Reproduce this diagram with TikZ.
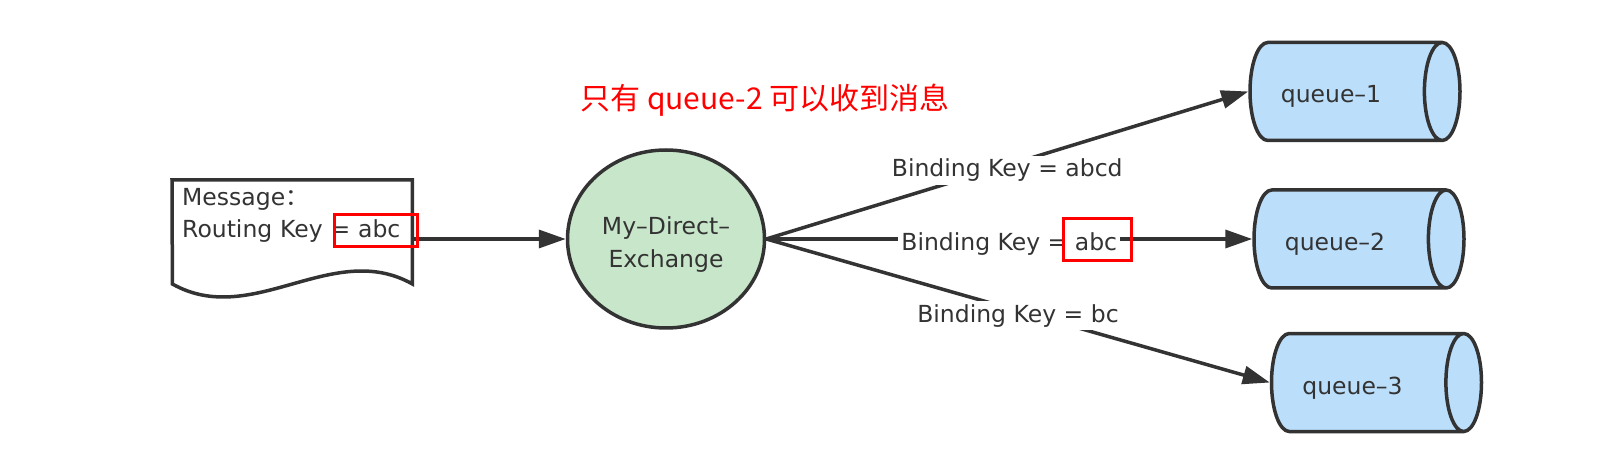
\documentclass[tikz,border=0pt]{standalone}
\usepackage{fontspec}
\setmainfont{DejaVu Sans}
\newfontfamily\cjk{Noto Sans CJK SC}
\usepackage{tikz}
\usetikzlibrary{shapes.geometric,arrows.meta,positioning}

\definecolor{inkgray}{RGB}{51,51,51}
\definecolor{exgreen}{RGB}{200,230,201}
\definecolor{qblue}{RGB}{187,222,251}

\begin{document}
\begin{tikzpicture}[x=1pt, y=1pt,
  font=\fontsize{23.5}{32}\selectfont, text=inkgray,
  exchange/.style={ellipse, draw=inkgray, fill=exgreen, line width=3.5pt,
                   minimum width=197pt, minimum height=178pt, align=center,
                   font=\fontsize{23.5}{33}\selectfont, text height=61pt},
  queue/.style   ={cylinder, draw=inkgray, fill=qblue, line width=3.5pt,
                   shape aspect=1.2, minimum height=210pt, minimum width=98pt,
                   text height=23pt, text depth=0pt,
                   execute at end node={\hspace*{22pt}}},
  msgtext/.style ={anchor=north west, text width=220pt, align=left,
                   inner xsep=10pt, inner ysep=8.6pt},
  bkey/.style    ={fill=white, inner sep=3pt, yshift=-5pt},
  hilite/.style  ={draw=red, line width=3pt},
  flow/.style    ={-{Triangle[length=27pt,width=18pt]}, line width=3.5pt,
                   draw=inkgray},
]
\useasboundingbox (0,0) rectangle (1612,474);

% === Message and exchange ===
\node[msgtext] (msg) at (172,294) {Message{\cjk ：}\\Routing Key = abc};
\draw[line width=3.5pt, draw=inkgray] (msg.north west) -- (msg.north east)
  -- ++(0,-104) .. controls +(-80,45) and +(80,-45) .. ++(-240,0) -- cycle;

\node[exchange] (ex) at (666,235) {My–Direct–\\Exchange};

% === Queues ===
\node[queue, right=486pt of ex] (q2) {queue–2};
\node[queue, above=46pt of q2, xshift=-4pt] (q1) {queue–1};
\node[queue, below=42pt of q2, xshift=17.5pt] (q3) {queue–3};

\node[text=red, font=\cjk\fontsize{30}{36}\selectfont] (title) at (765,374)
  {只有 queue-2 可以收到消息};

% === Routing ===
\draw[flow] (msg.east |- ex.west) -- (ex.west);
\draw[flow] (ex.east) -- node[bkey] (bk1) {Binding Key = abcd} (q1.west);
\draw[flow] (ex.east) -- node[bkey] (bk2) {Binding Key = abc} (q2.west);
\draw[flow] (ex.east) -- node[bkey] (bk3) {Binding Key = bc} (q3.west);

% red marks
\node[hilite, minimum width=83pt, minimum height=32pt] (hlmsg) at (375.5,243) {};
\node[hilite, minimum width=68pt, minimum height=42pt] (hlkey) at (1097,234) {};

\end{tikzpicture}
\end{document}
